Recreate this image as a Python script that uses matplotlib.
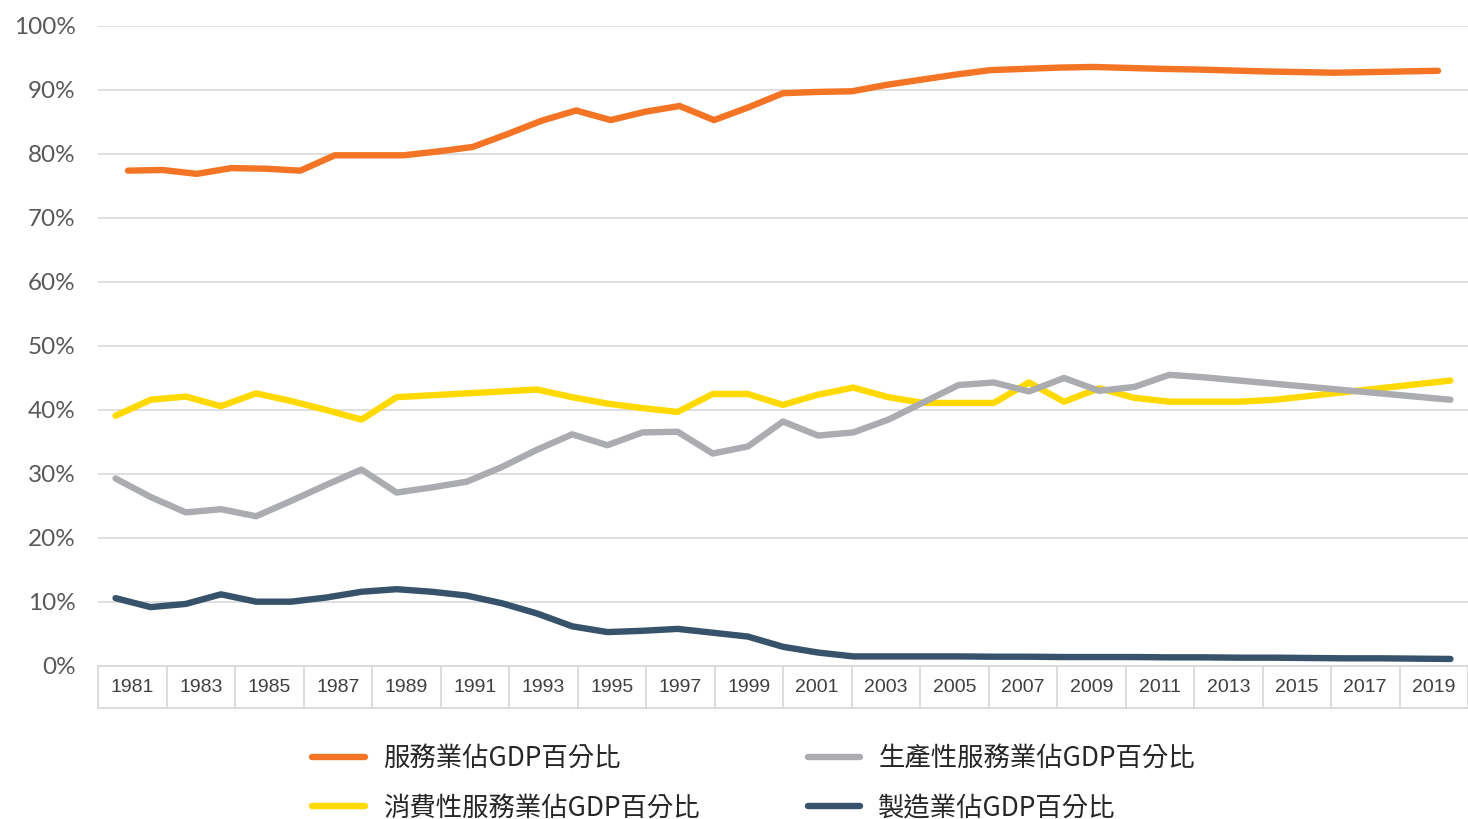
import matplotlib
matplotlib.use('Agg')
import matplotlib.pyplot as plt
from matplotlib.lines import Line2D

# ---------------- data ----------------
years = list(range(1981, 2020))

services = [77.4, 77.5, 76.9, 77.8, 77.7, 77.4, 79.8, 79.8, 79.8, 80.4,
            81.1, 83.1, 85.2, 86.8, 85.3, 86.6, 87.5, 85.3, 87.3, 89.5,
            89.7, 89.8, 90.8, 91.6, 92.4, 93.1, 93.3, 93.5, 93.6, 93.45,
            93.3, 93.2, 93.05, 92.9, 92.8, 92.7, 92.8, 92.9, 93.0]

consumer = [39.1, 41.6, 42.1, 40.6, 42.6, 41.4, 40.0, 38.5, 42.0, 42.3,
            42.6, 42.9, 43.2, 42.0, 41.0, 40.3, 39.7, 42.5, 42.5, 40.8,
            42.4, 43.5, 42.0, 41.1, 41.1, 41.1, 44.3, 41.3, 43.4, 41.9,
            41.3, 41.3, 41.3, 41.6, 42.2, 42.8, 43.4, 44.0, 44.6]

producer = [29.3, 26.4, 24.0, 24.5, 23.4, 25.8, 28.3, 30.7, 27.1, 27.9,
            28.8, 31.1, 33.8, 36.2, 34.5, 36.5, 36.6, 33.2, 34.3, 38.2,
            36.0, 36.5, 38.5, 41.2, 43.9, 44.3, 42.9, 45.0, 43.0, 43.6,
            45.5, 45.1, 44.6, 44.1, 43.6, 43.1, 42.6, 42.1, 41.6]

manufacturing = [10.6, 9.2, 9.7, 11.2, 10.05, 10.05, 10.7, 11.6, 12.0, 11.6,
                 11.0, 9.8, 8.2, 6.2, 5.3, 5.5, 5.8, 5.2, 4.6, 3.0,
                 2.1, 1.5, 1.5, 1.5, 1.5, 1.45, 1.45, 1.4, 1.4, 1.4,
                 1.35, 1.35, 1.3, 1.3, 1.25, 1.2, 1.2, 1.15, 1.1]

x_tick_labels = [str(y) for y in range(1981, 2020, 2)]
y_ticks = list(range(0, 101, 10))
y_tick_labels = [f'{v}%' for v in y_ticks]

legend_labels = ['服務業佔GDP百分比', '消費性服務業佔GDP百分比',
                 '生產性服務業佔GDP百分比', '製造業佔GDP百分比']

# ---------------- style ----------------
C_ORANGE = '#F47425'
C_YELLOW = '#FFD900'
C_GREY = '#ABACB0'
C_DARK = '#37536B'
GRID = '#D9D9D9'
LW = 4.6

plt.rcParams['font.family'] = ['Noto Sans CJK TC', 'DejaVu Sans']

W, H = 1468, 819
fig = plt.figure(figsize=(W / 100, H / 100), dpi=100)
ax = fig.add_axes([98 / W, (H - 666) / H, (W - 98) / W, 640 / H])

ax.set_xlim(1980.5, 2019.5)
ax.set_ylim(0, 100)
for s in ax.spines.values():
    s.set_visible(False)
ax.set_yticks(y_ticks)
ax.set_yticklabels(y_tick_labels, family=['Lato', 'DejaVu Sans'])
ax.yaxis.grid(True, color=GRID, lw=1.2)
ax.set_axisbelow(True)
ax.tick_params(axis='y', length=0, pad=16, labelsize=17.5, labelcolor='#595959')
ax.set_xticks([])

# category label table below the axis
n_cells = len(x_tick_labels)
tb = -42 / 640
ax.add_line(Line2D([0, 1], [0, 0], transform=ax.transAxes, color=GRID,
                   lw=1.3, clip_on=False))
ax.add_line(Line2D([0, 1], [tb, tb], transform=ax.transAxes, color=GRID,
                   lw=1.3, clip_on=False))
for k in range(n_cells + 1):
    ax.add_line(Line2D([k / n_cells, k / n_cells], [0, tb], transform=ax.transAxes,
                       color=GRID, lw=1.3, clip_on=False))
for k, lab in enumerate(x_tick_labels):
    ax.text((k + 0.5) / n_cells, tb / 2, lab, transform=ax.transAxes,
            ha='center', va='center', fontsize=14,
            family=['Liberation Sans Narrow', 'Liberation Sans'], color='#404040')

# series
l_y, = ax.plot(years, consumer, color=C_YELLOW, lw=LW, solid_capstyle='round',
               solid_joinstyle='round')
l_g, = ax.plot(years, producer, color=C_GREY, lw=LW, solid_capstyle='round',
               solid_joinstyle='round')
l_d, = ax.plot(years, manufacturing, color=C_DARK, lw=LW, solid_capstyle='round',
               solid_joinstyle='round')

ax2 = ax.twiny()
ax2.set_xlim(1980.13, 2019.87)
ax2.set_axis_off()
l_o, = ax2.plot(years, services, color=C_ORANGE, lw=LW, solid_capstyle='round',
                solid_joinstyle='round')

leg = fig.legend([l_o, l_y, l_g, l_d], legend_labels, ncol=2,
                 loc='upper left', bbox_to_anchor=(312 / W, (H - 745) / H),
                 frameon=False, fontsize=19, handlelength=2.0,
                 handletextpad=0.68, columnspacing=4.1, labelspacing=0.86,
                 borderpad=0, borderaxespad=0, labelcolor='#262626')

fig.savefig('out.png', dpi=100)
